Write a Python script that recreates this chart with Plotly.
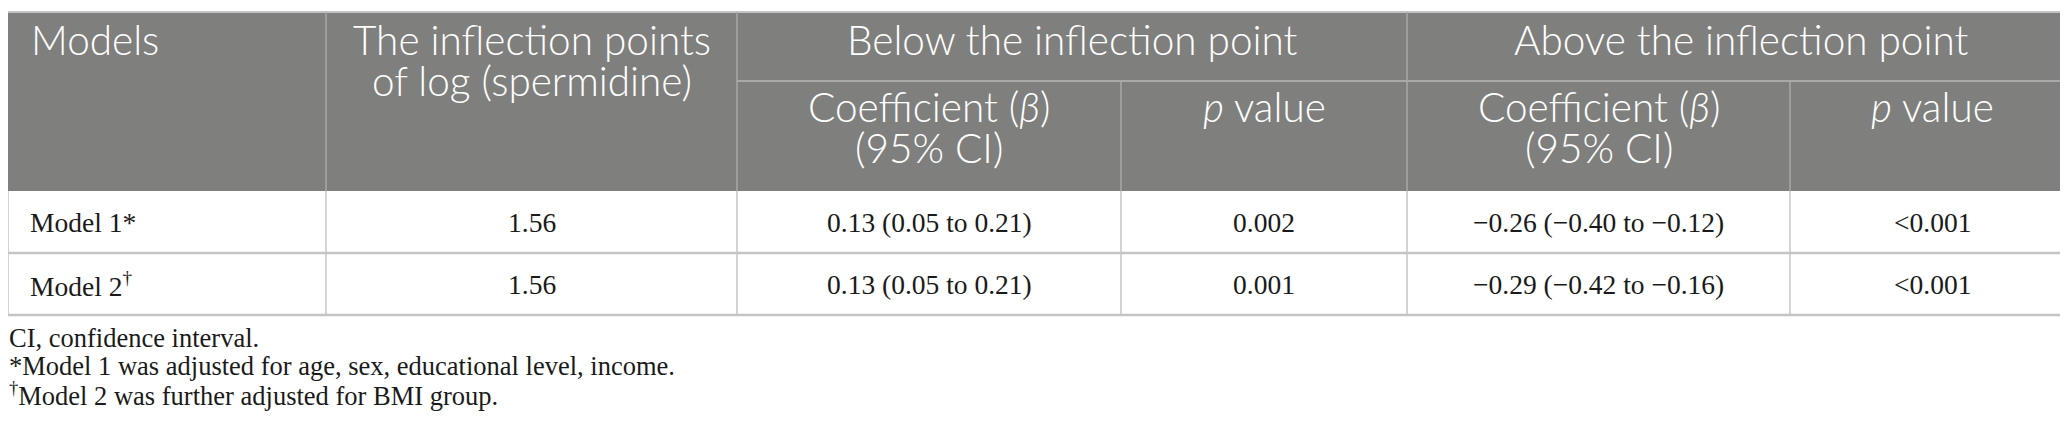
import plotly.graph_objects as go

# table content
models = ["Model 1*", "Model 2<sup>†</sup>"]
inflection_points = ["1.56", "1.56"]
below_coef = ["0.13 (0.05 to 0.21)", "0.13 (0.05 to 0.21)"]
below_p = ["0.002", "0.001"]
above_coef = ["−0.26 (−0.40 to −0.12)", "−0.29 (−0.42 to −0.16)"]
above_p = ["<0.001", "<0.001"]

header_models = "Models"
header_inflection = ["The inflection points", "of log (spermidine)"]
group_labels = ["Below the inflection point", "Above the inflection point"]
sub_labels = [["Coefficient (<i>β</i>)", "(95% CI)"], ["<i>p</i> value"],
              ["Coefficient (<i>β</i>)", "(95% CI)"], ["<i>p</i> value"]]
footnotes = [
    "CI, confidence interval.",
    "*Model 1 was adjusted for age, sex, educational level, income.",
    "<sup>†</sup>Model 2 was further adjusted for BMI group.",
]

W, H = 2068, 434
col_edges = [0, 318, 729, 1113, 1399, 1782, 2067]
y_top, y_mid, y_head = 4, 73, 183
row_h = 62

HEAD_BG = "#7f807e"
HEAD_LINE = "#a9aaa8"
GRID = "#c4c4c4"
SANS = "Lato"
SERIF = "Liberation Serif"
HEAD_SIZE = 40.5
BODY_SIZE = 27.5
NOTE_SIZE = 26.5

shapes = []
ann = []

def rect(x0, y0, x1, y1, fill):
    shapes.append(dict(type="rect", xref="x", yref="y", x0=x0, y0=y0, x1=x1, y1=y1,
                       fillcolor=fill, line=dict(width=0), layer="below"))

def hline(x0, x1, y, color, w=1.5):
    shapes.append(dict(type="line", xref="x", yref="y", x0=x0, x1=x1, y0=y, y1=y,
                       line=dict(color=color, width=w)))

def vline(x, y0, y1, color, w=1.5):
    shapes.append(dict(type="line", xref="x", yref="y", x0=x, x1=x, y0=y0, y1=y1,
                       line=dict(color=color, width=w)))

def text(x, y, s, font, size, color, anchor="center", weight="normal"):
    ann.append(dict(x=x, y=y, xref="x", yref="y", text=s, showarrow=False,
                    xanchor=anchor, yanchor="middle", borderpad=0,
                    font=dict(family=font, size=size, color=color, weight=weight)))

# header block
rect(col_edges[0], y_top, col_edges[-1], y_head, HEAD_BG)
hline(col_edges[0], col_edges[-1], y_top, GRID, 2)
hline(col_edges[2], col_edges[-1], y_mid, HEAD_LINE, 2)
for i, x in enumerate(col_edges[1:-1], start=1):
    y0 = y_top if i in (1, 2, 4) else y_mid
    vline(x, y0, y_head, HEAD_LINE)
vline(col_edges[-1], y_top, y_head, GRID)

# header text, lines placed one by one
line1_y, line_gap = 31, 41
text(22, line1_y, header_models, SANS, HEAD_SIZE, "white", "left", 300)
for j, s in enumerate(header_inflection):
    text((col_edges[1] + col_edges[2]) / 2, line1_y + j * line_gap, s, SANS, HEAD_SIZE, "white", weight=300)
for g, lab in enumerate(group_labels):
    x0, x1 = col_edges[2 + 2 * g], col_edges[4 + 2 * g]
    text((x0 + x1) / 2, line1_y, lab, SANS, HEAD_SIZE, "white", weight=300)
sub_y = 98
for k, lines in enumerate(sub_labels):
    x0, x1 = col_edges[2 + k], col_edges[3 + k]
    for j, s in enumerate(lines):
        text((x0 + x1) / 2, sub_y + j * line_gap, s, SANS, HEAD_SIZE, "white", weight=300)

# body
columns = [models, inflection_points, below_coef, below_p, above_coef, above_p]
n_rows = len(models)
for r in range(n_rows):
    ya = y_head + r * row_h
    yb = ya + row_h
    hline(col_edges[0], col_edges[-1], yb, GRID, 2.5)
    for c, col in enumerate(columns):
        x0, x1 = col_edges[c], col_edges[c + 1]
        if c == 0:
            text(x0 + 21, ya + row_h / 2, col[r], SERIF, BODY_SIZE, "#1a1a1a", "left")
        else:
            text((x0 + x1) / 2, ya + row_h / 2, col[r], SERIF, BODY_SIZE, "#1a1a1a")
y_end = y_head + n_rows * row_h
for x in col_edges:
    vline(x, y_head, y_end, GRID)

# footnotes
for i, f in enumerate(footnotes):
    text(0, 330 + i * 28, f, SERIF, NOTE_SIZE, "#1a1a1a", "left")

fig = go.Figure()
fig.update_layout(
    width=W, height=H,
    margin=dict(l=0, r=0, t=0, b=0),
    paper_bgcolor="white", plot_bgcolor="white",
    xaxis=dict(range=[0, W], visible=False, fixedrange=True),
    yaxis=dict(range=[H, 0], visible=False, fixedrange=True),
    shapes=shapes, annotations=ann, showlegend=False,
)
fig.write_html("out.html")
